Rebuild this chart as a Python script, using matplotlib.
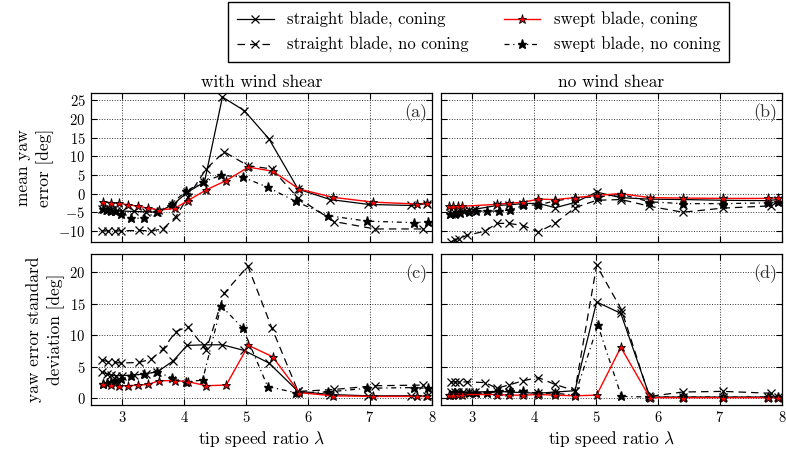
import numpy as np
import matplotlib
matplotlib.use('Agg')
import matplotlib.pyplot as plt

plt.rcParams['font.family'] = 'serif'
plt.rcParams['font.serif'] = ['cmr10']
plt.rcParams['mathtext.fontset'] = 'cm'
plt.rcParams['axes.formatter.use_mathtext'] = True
plt.rcParams['axes.unicode_minus'] = True

# --- tip speed ratios of each run ---
tsr_swept_shear = [2.69, 2.82, 2.95, 3.10, 3.26, 3.42, 3.60, 3.85, 4.06, 4.36, 4.68,
                   5.04, 5.43, 5.86, 6.40, 7.05, 7.76, 7.92]
tsr_straight_shear = [2.67, 2.75, 2.82, 2.90, 3.00, 3.20, 3.38, 3.57, 3.82, 4.05, 4.33,
                      4.62, 4.97, 5.37, 5.84, 6.36, 6.97, 7.66, 7.92]
tsr_straight_shear_nc = [2.67, 2.78, 2.88, 2.99, 3.27, 3.47, 3.66, 3.87, 4.06, 4.36, 4.65,
                         5.03, 5.42, 5.84, 6.42, 7.08, 7.86]
tsr_swept_shear_nc = [2.69, 2.76, 2.82, 2.88, 2.99, 3.15, 3.36, 3.56, 3.80, 4.03, 4.30,
                      4.60, 4.95, 5.35, 5.80, 6.32, 6.95, 7.71, 7.93]

tsr_swept_calm = [2.63, 2.70, 2.77, 2.84, 3.40, 3.60, 3.83, 4.07, 4.34, 4.66, 5.01,
                  5.40, 5.87, 6.40, 7.05, 7.77, 7.93]
tsr_straight_calm = [2.66, 2.72, 2.78, 2.85, 2.95, 3.05, 3.40, 3.60, 3.83, 4.07, 4.34,
                     4.66, 5.01, 5.40, 5.87, 6.40, 7.05, 7.77, 7.93]
tsr_straight_calm_nc = [2.66, 2.72, 2.79, 2.92, 3.21, 3.40, 3.59, 3.83, 4.07, 4.34, 4.66,
                        5.01, 5.41, 5.86, 6.40, 7.05, 7.82]
tsr_swept_calm_nc = [2.65, 2.72, 2.80, 2.95, 3.06, 3.24, 3.43, 3.61, 3.83, 4.07, 4.34,
                     4.66, 5.03, 5.41, 5.86, 6.40, 7.05, 7.77, 7.93]

# --- mean yaw error [deg], with wind shear ---
mean_shear_straight_c = [-4.2, -4.4, -4.5, -4.6, -4.7, -4.8, -4.9, -5.0, -3.0, 0.3, 3.1,
                         25.9, 22.3, 14.7, 1.2, -1.6, -2.9, -3.2, -2.7]
mean_shear_straight_nc = [-10.0, -10.0, -10.0, -10.0, -9.9, -10.0, -9.5, -6.2, -1.0, 6.7,
                          11.2, 7.5, 6.6, -1.2, -7.5, -9.5, -9.5]
mean_shear_swept_c = [-2.3, -2.4, -2.6, -3.0, -3.4, -3.9, -4.4, -4.0, -1.9, 1.0, 3.5,
                      7.1, 6.0, 1.2, -1.0, -2.3, -2.8, -2.6]
mean_shear_swept_nc = [-4.1, -4.4, -4.6, -4.8, -5.6, -6.6, -6.6, -5.0, -2.7, 0.6, 3.1,
                       4.9, 4.4, 1.7, -2.1, -5.9, -7.4, -7.8, -7.6]

# --- mean yaw error [deg], no wind shear ---
mean_calm_straight_c = [-5.5, -5.3, -5.0, -4.8, -4.5, -4.2, -3.2, -3.0, -2.7, -2.6, -3.8,
                        -2.4, 0.4, -1.1, -1.5, -1.6, -1.8, -1.9, -1.6]
mean_calm_straight_nc = [-13.0, -12.4, -12.1, -11.2, -10.1, -8.0, -8.0, -8.6, -10.3, -8.0,
                         -3.8, -1.8, -1.6, -3.4, -5.0, -3.9, -3.3]
mean_calm_swept_c = [-3.4, -3.4, -3.4, -3.4, -2.9, -2.6, -2.3, -1.5, -1.6, -1.1, -0.5,
                     0.0, -1.1, -1.2, -1.3, -1.3, -1.1]
mean_calm_swept_nc = [-5.6, -5.5, -5.3, -5.0, -4.7, -4.7, -4.7, -4.4, -3.2, -3.0, -2.0,
                      -1.1, -0.9, -0.2, -2.2, -2.7, -2.7, -2.5, -2.2]

# --- yaw error standard deviation [deg], with wind shear ---
std_shear_straight_c = [4.2, 3.9, 3.7, 3.6, 3.6, 3.7, 3.9, 4.2, 5.9, 8.4, 8.5, 8.5, 7.6,
                        5.6, 1.1, 0.6, 0.4, 0.4, 0.3]
std_shear_straight_nc = [6.1, 5.8, 5.7, 5.6, 5.7, 6.2, 7.8, 10.6, 11.4, 7.7, 16.7, 21.0,
                         11.1, 1.1, 1.4, 2.0, 2.1]
std_shear_swept_c = [2.3, 2.1, 2.0, 2.0, 2.1, 2.2, 2.8, 2.8, 2.65, 2.0, 2.1, 8.4, 6.6,
                     0.9, 0.4, 0.3, 0.3, 0.3]
std_shear_swept_nc = [2.3, 2.4, 2.6, 2.8, 3.1, 3.6, 3.9, 4.2, 3.3, 2.6, 2.9, 14.7, 11.1,
                      1.85, 0.9, 1.0, 1.6, 1.7, 1.6]

# --- yaw error standard deviation [deg], no wind shear ---
std_calm_straight_c = [1.0, 1.0, 1.0, 1.0, 1.0, 1.0, 1.1, 1.0, 0.9, 0.8, 1.0, 1.2, 15.3,
                       13.5, 0.2, 0.2, 0.2, 0.2, 0.2]
std_calm_straight_nc = [2.6, 2.6, 2.6, 2.6, 2.5, 1.6, 2.1, 2.8, 3.3, 2.2, 1.2, 21.1, 14.1,
                        0.3, 1.0, 1.1, 0.8]
std_calm_swept_c = [0.6, 0.6, 0.6, 0.6, 0.6, 0.5, 0.5, 0.6, 0.5, 0.4, 0.5, 8.1, 0.1, 0.1,
                    0.1, 0.1, 0.1]
std_calm_swept_nc = [0.5, 0.8, 0.9, 0.8, 0.8, 0.8, 1.1, 1.1, 1.1, 0.8, 0.8, 0.5, 11.6,
                     0.3, 0.2, 0.2, 0.2, 0.2, 0.2]

labels = ['straight blade, coning', 'straight blade, no coning',
          'swept blade, coning', 'swept blade, no coning']

sty_straight_c = dict(color='k', ls='-', lw=0.9, marker='x', ms=6, mew=0.9)
sty_straight_nc = dict(color='k', ls=(0, (6, 4)), lw=0.9, marker='x', ms=6, mew=0.9)
sty_swept_c = dict(color='red', ls='-', lw=1.0, marker='*', ms=6.5, mfc='red', mec='k', mew=0.6)
sty_swept_nc = dict(color='k', ls=(0, (4, 3, 1, 3)), lw=0.9, marker='*', ms=6.5, mfc='k', mec='k')

W, H = 786, 450
fig = plt.figure(figsize=(W / 100, H / 100), dpi=100)


def add_ax(x0, top, x1, bot):
    return fig.add_axes([x0 / W, 1 - bot / H, (x1 - x0) / W, (bot - top) / H])


ax_a = add_ax(91, 93, 432, 242)
ax_b = add_ax(441, 93, 782, 242)
ax_c = add_ax(91, 253.5, 432, 404.6)
ax_d = add_ax(441, 253.5, 782, 404.6)

panels = [
    (ax_a, 'a', mean_shear_straight_c, mean_shear_straight_nc, mean_shear_swept_c, mean_shear_swept_nc, True),
    (ax_b, 'b', mean_calm_straight_c, mean_calm_straight_nc, mean_calm_swept_c, mean_calm_swept_nc, False),
    (ax_c, 'c', std_shear_straight_c, std_shear_straight_nc, std_shear_swept_c, std_shear_swept_nc, True),
    (ax_d, 'd', std_calm_straight_c, std_calm_straight_nc, std_calm_swept_c, std_calm_swept_nc, False),
]

handles = []
for ax, tag, y_sc, y_snc, y_wc, y_wnc, shear in panels:
    if shear:
        xs = (tsr_straight_shear, tsr_straight_shear_nc, tsr_swept_shear, tsr_swept_shear_nc)
    else:
        xs = (tsr_straight_calm, tsr_straight_calm_nc, tsr_swept_calm, tsr_swept_calm_nc)
    h1, = ax.plot(xs[0], y_sc, **sty_straight_c, zorder=3)
    h2, = ax.plot(xs[1], y_snc, **sty_straight_nc, zorder=3)
    h4, = ax.plot(xs[3], y_wnc, **sty_swept_nc, zorder=3)
    h3, = ax.plot(xs[2], y_wc, **sty_swept_c, zorder=4)
    handles = [h1, h2, h3, h4]

    ax.set_xlim(2.5, 8)
    ax.set_xticks([3, 4, 5, 6, 7, 8])
    if tag in 'ab':
        ax.set_ylim(-13, 27)
        ax.set_yticks([-10, -5, 0, 5, 10, 15, 20, 25])
        ax.tick_params(labelbottom=False)
    else:
        ax.set_ylim(-1, 23)
        ax.set_yticks([0, 5, 10, 15, 20])
        ax.set_xlabel(r'tip speed ratio $\lambda$', fontsize=12.5, labelpad=3)
    if tag in 'bd':
        ax.tick_params(labelleft=False)
    ax.tick_params(direction='in', top=True, right=True, length=4, width=0.8,
                   labelsize=10.5, pad=4)
    ax.grid(True, ls=':', color='k', lw=0.7, alpha=0.8)
    ax.set_axisbelow(True)
    for s in ax.spines.values():
        s.set_linewidth(0.9)
    ax.text(0.985, 0.87, f'({tag})', transform=ax.transAxes, ha='right',
            va='center', fontsize=13, color='#333333')

ax_a.set_title('with wind shear', fontsize=12.5, pad=4)
ax_b.set_title('no wind shear', fontsize=12.5, pad=4)
ax_a.set_ylabel('mean yaw\nerror [deg]', fontsize=12.5, linespacing=1.4, labelpad=3)
ax_c.set_ylabel('yaw error standard\ndeviation [deg]', fontsize=12.5, linespacing=1.4, labelpad=3)

fig.legend(handles, labels, loc='center', bbox_to_anchor=(0.609, 0.928), ncol=2,
           fontsize=12, fancybox=False, edgecolor='k', framealpha=1,
           handlelength=2.2, columnspacing=2.1, borderpad=0.55, labelspacing=0.55,
           handletextpad=0.8)

fig.savefig('out.png', dpi=100)
